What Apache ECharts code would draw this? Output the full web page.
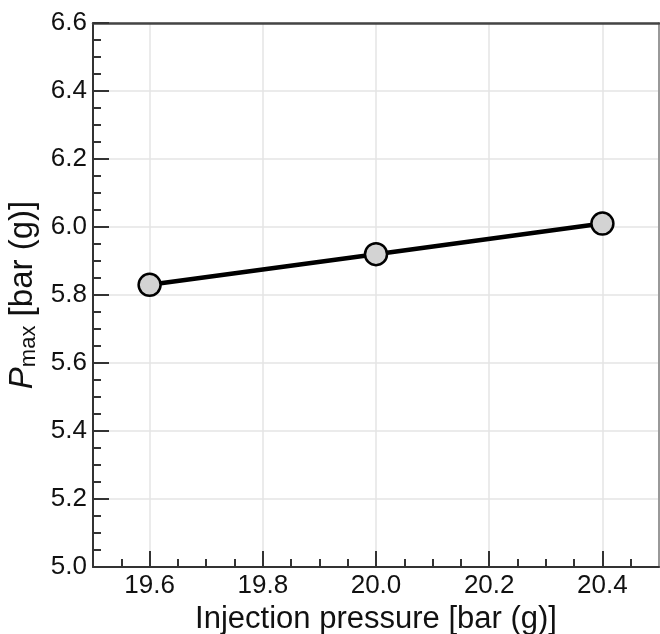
<!DOCTYPE html>
<html><head><meta charset="utf-8">
<script src="https://cdn.jsdelivr.net/npm/echarts@6/dist/echarts.min.js"></script>
<style>html,body{margin:0;padding:0;background:#fff}#c{width:660px;height:634px}</style>
</head><body><div id="c"></div>
<script>
const injectionPressure = [19.6, 20.0, 20.4];
const pMax = [5.83, 5.92, 6.01];
const xMajorTicks = [19.6, 19.8, 20.0, 20.2, 20.4];
const xMinorTicks = [19.55, 19.65, 19.7, 19.75, 19.85, 19.9, 19.95, 20.05, 20.1, 20.15, 20.25, 20.3, 20.35, 20.45];
const xTitle = 'Injection pressure [bar (g)]';

const chart = echarts.init(document.getElementById('c'));
const font = 'Liberation Sans, Arial, sans-serif';
const tickColor = '#333';
chart.setOption({
  animation: false,
  backgroundColor: '#fff',
  grid: {left: 93, right: 1, top: 23, bottom: 67, containLabel: false, outerBoundsMode: 'none'},
  xAxis: [{
    type: 'value', min: 19.5, max: 20.5,
    axisLine: {show: true, onZero: false, lineStyle: {color: tickColor, width: 2}},
    axisTick: {show: true, inside: true, length: 16, customValues: xMajorTicks, lineStyle: {color: tickColor, width: 2}},
    axisLabel: {color: '#111', fontSize: 26, fontFamily: font, margin: 6, customValues: xMajorTicks,
      formatter: v => v.toFixed(1)},
    splitLine: {show: true, lineStyle: {color: '#e4e4e4', width: 1.5}},
    name: xTitle, nameLocation: 'middle', nameGap: 36,
    nameTextStyle: {color: '#111', fontSize: 31, fontFamily: font}
  }, {
    type: 'value', position: 'bottom', min: 19.5, max: 20.5,
    axisLine: {show: false},
    axisTick: {show: true, inside: true, length: 8, customValues: xMinorTicks, lineStyle: {color: tickColor, width: 2}},
    axisLabel: {show: false}, splitLine: {show: false}
  }, {
    type: 'value', position: 'top', min: 19.5, max: 20.5,
    axisLine: {show: true, onZero: false, lineStyle: {color: '#444', width: 2.5}},
    axisTick: {show: false}, axisLabel: {show: false}, splitLine: {show: false}
  }],
  yAxis: [{
    type: 'value', min: 5.0, max: 6.6, interval: 0.2,
    axisLine: {show: true, onZero: false, lineStyle: {color: tickColor, width: 2}},
    axisTick: {show: true, inside: true, length: 16, lineStyle: {color: tickColor, width: 2}},
    minorTick: {show: true, splitNumber: 4, length: 8, lineStyle: {color: tickColor, width: 2}},
    axisLabel: {color: '#111', fontSize: 26, fontFamily: font, margin: 6,
      formatter: v => v.toFixed(1)},
    splitLine: {show: true, lineStyle: {color: '#e4e4e4', width: 1.5}},
    name: '{i|P}{s|max}{n| [bar (g)]}', nameLocation: 'middle', nameRotate: 90, nameGap: 53,
    nameTextStyle: {
      color: '#111', fontSize: 33, fontFamily: font,
      rich: {
        i: {fontStyle: 'italic', fontSize: 33, fontFamily: font, color: '#111'},
        s: {fontSize: 22, fontFamily: font, color: '#111', verticalAlign: 'bottom', padding: [13, 0, 0, 0]},
        n: {fontSize: 33, fontFamily: font, color: '#111'}
      }
    }
  }, {
    type: 'value', position: 'right', min: 5.0, max: 6.6,
    axisLine: {show: true, onZero: false, lineStyle: {color: '#999', width: 2}},
    axisTick: {show: false}, axisLabel: {show: false}, splitLine: {show: false}
  }],
  series: [{
    type: 'line',
    data: injectionPressure.map((x, i) => [x, pMax[i]]),
    lineStyle: {color: '#000', width: 4.5},
    symbol: 'circle', symbolSize: 22,
    itemStyle: {color: '#d3d3d3', borderColor: '#000', borderWidth: 2.5},
    z: 5
  }]
});
</script></body></html>
